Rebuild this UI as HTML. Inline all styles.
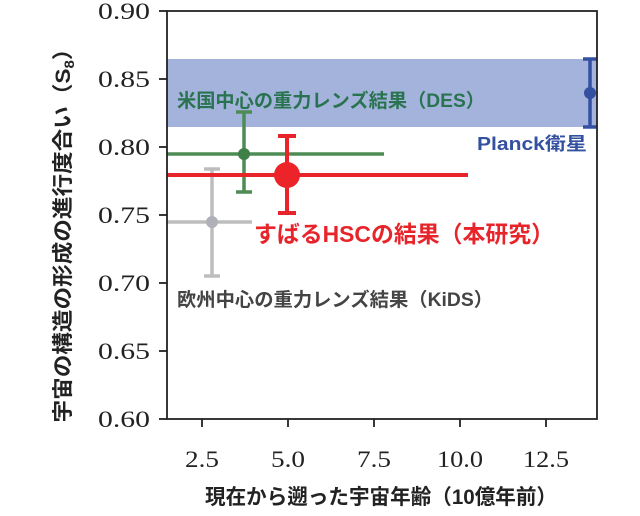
<!DOCTYPE html>
<html><head><meta charset="utf-8"><style>
html,body{margin:0;padding:0;background:#fff;}
svg{display:block}
.t{font-family:"Liberation Serif",serif;font-size:23px;fill:#222}
.j{font-family:"Liberation Sans","Noto Sans CJK JP",sans-serif;font-weight:bold}
</style></head><body>
<svg width="640" height="516" viewBox="0 0 640 516" xmlns="http://www.w3.org/2000/svg">
<rect x="167" y="59" width="430" height="68" fill="#a3b3dc"/>
<g stroke="#bdbdbd" stroke-width="3.5" fill="none">
<line x1="167" y1="222" x2="252" y2="222"/>
<line x1="212" y1="169" x2="212" y2="276"/>
<line x1="204" y1="169" x2="220" y2="169"/><line x1="204" y1="276" x2="220" y2="276"/>
</g><circle cx="212" cy="222" r="6" fill="#b0b0b8"/>
<g stroke="#4e8c55" stroke-width="3.5" fill="none">
<line x1="167" y1="154" x2="384" y2="154"/>
<line x1="244" y1="112" x2="244" y2="192"/>
<line x1="236" y1="112" x2="252" y2="112"/><line x1="236" y1="192" x2="252" y2="192"/>
</g><circle cx="244" cy="154" r="6" fill="#3f8048"/>
<g stroke="#e8242b" stroke-width="4" fill="none">
<line x1="167" y1="175" x2="468" y2="175"/>
<line x1="287" y1="136" x2="287" y2="213"/>
<line x1="278" y1="136" x2="296" y2="136"/><line x1="278" y1="213" x2="296" y2="213"/>
</g><circle cx="287" cy="175" r="13" fill="#ec2328"/>
<g stroke="#3450a0" stroke-width="3.5" fill="none">
<line x1="590" y1="59" x2="590" y2="127"/>
<line x1="583" y1="59" x2="597" y2="59"/><line x1="583" y1="127" x2="597" y2="127"/>
</g><circle cx="590" cy="93" r="6" fill="#3450a0"/>
<rect x="167" y="11" width="430" height="408" fill="none" stroke="#222" stroke-width="1.8"/>
<g stroke="#222" stroke-width="1.8">
<line x1="159" y1="11" x2="167" y2="11"/><line x1="159" y1="79" x2="167" y2="79"/><line x1="159" y1="147" x2="167" y2="147"/>
<line x1="159" y1="215" x2="167" y2="215"/><line x1="159" y1="283" x2="167" y2="283"/><line x1="159" y1="351" x2="167" y2="351"/><line x1="159" y1="419" x2="167" y2="419"/>
<line x1="202" y1="419" x2="202" y2="427"/><line x1="288" y1="419" x2="288" y2="427"/><line x1="374" y1="419" x2="374" y2="427"/><line x1="460" y1="419" x2="460" y2="427"/><line x1="546" y1="419" x2="546" y2="427"/>
</g>
<g class="t" text-anchor="end">
<text x="150" y="19" textLength="52" lengthAdjust="spacingAndGlyphs">0.90</text><text x="150" y="87" textLength="52" lengthAdjust="spacingAndGlyphs">0.85</text><text x="150" y="155" textLength="52" lengthAdjust="spacingAndGlyphs">0.80</text>
<text x="150" y="223" textLength="52" lengthAdjust="spacingAndGlyphs">0.75</text><text x="150" y="291" textLength="52" lengthAdjust="spacingAndGlyphs">0.70</text><text x="150" y="359" textLength="52" lengthAdjust="spacingAndGlyphs">0.65</text><text x="150" y="427" textLength="52" lengthAdjust="spacingAndGlyphs">0.60</text>
</g>
<g class="t" text-anchor="middle">
<text x="202" y="467" textLength="34" lengthAdjust="spacingAndGlyphs">2.5</text><text x="288" y="467" textLength="34" lengthAdjust="spacingAndGlyphs">5.0</text><text x="374" y="467" textLength="34" lengthAdjust="spacingAndGlyphs">7.5</text><text x="460" y="467" textLength="46" lengthAdjust="spacingAndGlyphs">10.0</text><text x="546" y="467" textLength="46" lengthAdjust="spacingAndGlyphs">12.5</text>
</g>
<text class="j" x="177" y="107" font-size="19" fill="#2a7350" textLength="308" lengthAdjust="spacingAndGlyphs">米国中心の重力レンズ結果（DES）</text>
<text class="j" x="477" y="150" font-size="18" fill="#3450a0" textLength="110" lengthAdjust="spacingAndGlyphs">Planck衛星</text>
<text class="j" x="254" y="242" font-size="23" fill="#e8242b" textLength="300" lengthAdjust="spacingAndGlyphs">すばるHSCの結果（本研究）</text>
<text class="j" x="177" y="306" font-size="19" fill="#444" textLength="316" lengthAdjust="spacingAndGlyphs">欧州中心の重力レンズ結果（KiDS）</text>
<text class="j" x="381" y="504" font-size="21" fill="#222" text-anchor="middle" textLength="352" lengthAdjust="spacingAndGlyphs">現在から遡った宇宙年齢（10億年前）</text>
<text class="j" font-size="21" fill="#222" text-anchor="middle" transform="translate(70,230) rotate(-90)" textLength="385" lengthAdjust="spacingAndGlyphs">宇宙の構造の形成の進行度合い（S<tspan font-size="14" dy="4">8</tspan><tspan dy="-4">）</tspan></text>
</svg>
</body></html>
